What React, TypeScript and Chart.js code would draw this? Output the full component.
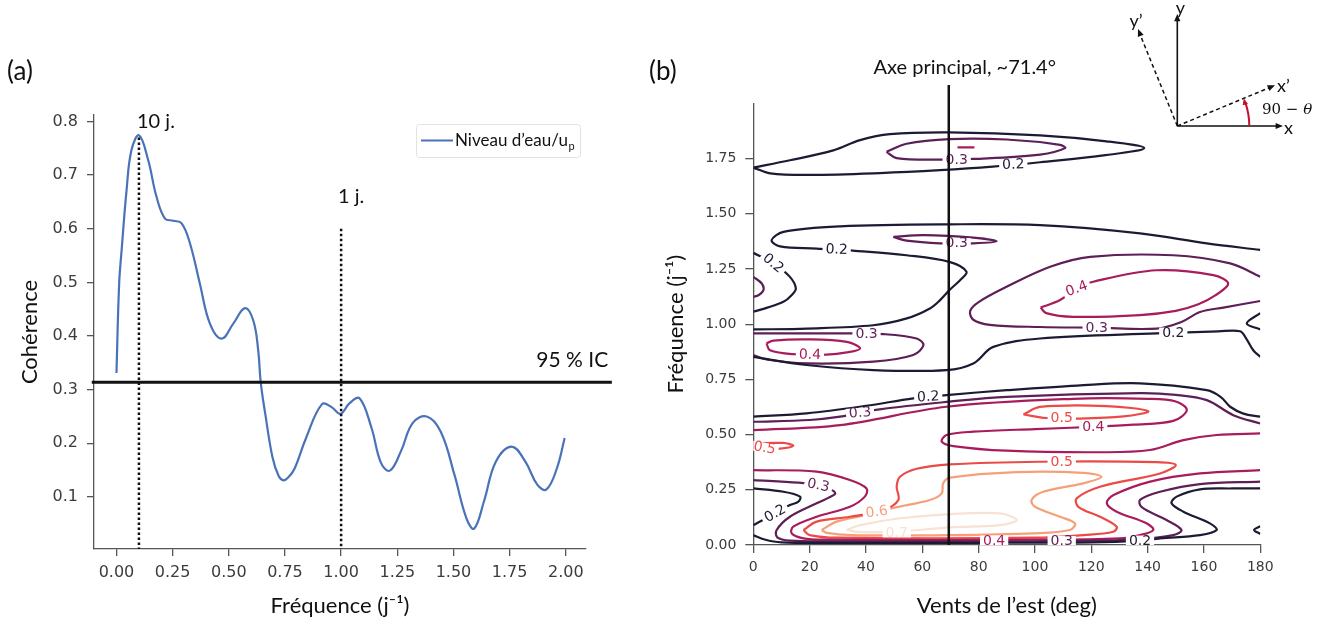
import React, { useEffect, useRef } from "react";
import { Chart, registerables } from "chart.js";
Chart.register(...registerables);

// ---------------- Panel (a) data ----------------
const cohFreq = [0, 0.012, 0.023, 0.045, 0.067, 0.101, 0.141, 0.178, 0.216, 0.253, 0.29, 0.327, 0.371, 0.416, 0.468, 0.52, 0.572, 0.609, 0.631, 0.642, 0.663, 0.695, 0.722, 0.744, 0.766, 0.792, 0.844, 0.915, 0.959, 0.997, 1.038, 1.082, 1.135, 1.178, 1.217, 1.266, 1.319, 1.381, 1.443, 1.504, 1.557, 1.592, 1.636, 1.689, 1.759, 1.82, 1.873, 1.914, 1.961, 1.995];
const cohValues = [0.331, 0.498, 0.56, 0.672, 0.747, 0.774, 0.728, 0.66, 0.619, 0.615, 0.61, 0.573, 0.498, 0.423, 0.395, 0.423, 0.452, 0.429, 0.373, 0.314, 0.253, 0.173, 0.139, 0.131, 0.137, 0.152, 0.21, 0.273, 0.267, 0.255, 0.275, 0.284, 0.229, 0.163, 0.149, 0.185, 0.238, 0.25, 0.222, 0.142, 0.061, 0.041, 0.092, 0.166, 0.194, 0.166, 0.123, 0.114, 0.154, 0.21];
const seriesName = "Niveau d’eau/u";
const seriesSub = "p";
const ci95 = 0.314;
const periodFreqs = [0.1, 1.0];
const periodTops = [0.77, 0.6];
const periodLabels = ["10 j.", "1 j."];
const aXTicks = [0, 0.25, 0.5, 0.75, 1, 1.25, 1.5, 1.75, 2];
const aXLabels = ["0.00", "0.25", "0.50", "0.75", "1.00", "1.25", "1.50", "1.75", "2.00"];
const aYTicks = [0.1, 0.2, 0.3, 0.4, 0.5, 0.6, 0.7, 0.8];
const aYLabels = ["0.1", "0.2", "0.3", "0.4", "0.5", "0.6", "0.7", "0.8"];

// ---------------- Panel (b) data ([deg, freq] pairs) ----------------
const axeDeg = 69.4;
const bXTicks = [0, 20, 40, 60, 80, 100, 120, 140, 160, 180];
const bXLabels = ["0", "20", "40", "60", "80", "100", "120", "140", "160", "180"];
const bYTicks = [0, 0.25, 0.5, 0.75, 1, 1.25, 1.5, 1.75];
const bYLabels = ["0.00", "0.25", "0.50", "0.75", "1.00", "1.25", "1.50", "1.75"];

const c02Top = [[0, 1.709], [13, 1.742], [28.4, 1.787], [37.9, 1.833], [48.5, 1.86], [69.6, 1.868], [101.8, 1.855], [125.4, 1.828], [138.8, 1.797], [125, 1.765], [101.8, 1.733], [85, 1.713], [66.3, 1.697], [45, 1.684], [20, 1.676], [6, 1.683], [0, 1.709]];
const c02Mid = [[180, 1.336], [161, 1.366], [137.3, 1.411], [101.8, 1.448], [69.6, 1.452], [30.8, 1.443], [10.7, 1.418], [6.5, 1.38], [9.5, 1.352], [22.5, 1.342], [36.1, 1.332], [54.4, 1.312], [69.6, 1.282], [75.7, 1.237], [73.4, 1.199], [69.6, 1.154], [66.3, 1.109], [62.7, 1.071], [54.5, 1.026], [42.6, 0.995], [19, 0.98], [0, 0.976]];
const c02Left = [[0, 1.323], [7.1, 1.275], [13, 1.214], [15.1, 1.161], [13.5, 1.13], [10.7, 1.101], [5, 1.075], [0, 1.056]];
const c02Under = [[0, 0.852], [18.9, 0.815], [42.6, 0.792], [68.6, 0.792], [78.1, 0.822], [85.2, 0.897], [101.8, 0.935], [143.2, 0.958], [165, 0.967], [172.8, 0.968], [175, 0.935], [177.5, 0.882], [180, 0.852]];
const c02RightSmall = [[180, 1.05], [175.2, 1.003], [180, 0.976]];
const c02Band = [[0, 0.581], [18.9, 0.596], [40, 0.63], [56.8, 0.664], [68.6, 0.679], [90, 0.701], [115, 0.722], [137.3, 0.732], [161, 0.701], [166, 0.67], [169.3, 0.626], [174, 0.595], [180, 0.581]];
const c02LowLoop = [[0, 0.256], [10.7, 0.241], [16.6, 0.219], [16, 0.196], [13, 0.181], [7.7, 0.143], [2.4, 0.106], [0, 0.09]];
const c02Bottom = [[0, 0.045], [4, 0.025], [10, 0.012], [30, 0.01], [80, 0.01], [120, 0.012], [137.3, 0.02], [144.4, 0.03], [158.6, 0.045], [164.5, 0.068], [162.1, 0.098], [152.7, 0.151], [148.5, 0.189], [150.3, 0.219], [158.6, 0.252], [170, 0.256], [180, 0.256]];
const c02RightTiny = [[180, 0.085], [177.8, 0.068], [180, 0.05]];

const c03Top = [[47.3, 1.78], [54.4, 1.817], [69.6, 1.838], [89.9, 1.836], [108.9, 1.812], [110.7, 1.797], [101.8, 1.768], [78.1, 1.748], [66.3, 1.745], [50.9, 1.752], [47.3, 1.78]];
const c03Mid = [[49.7, 1.395], [60.4, 1.403], [78.1, 1.392], [86.4, 1.375], [78.1, 1.366], [66.3, 1.366], [54.4, 1.378], [49.7, 1.395]];
const c03LeftArc = [[0, 1.214], [3, 1.184], [3.6, 1.154], [1.8, 1.131], [0, 1.124]];
const c03Right = [[180, 1.215], [169.3, 1.275], [149.1, 1.312], [119.6, 1.305], [105.4, 1.26], [89.9, 1.169], [80, 1.1], [77, 1.06], [78.1, 1.02], [84, 0.997], [101.8, 0.987], [121.9, 0.984], [143.2, 0.98], [152, 1.01], [158.6, 1.055], [166.9, 1.075], [180, 1.105]];
const c03Left = [[0, 0.958], [32, 0.958], [46.2, 0.955], [58, 0.935], [60.4, 0.905], [56.8, 0.86], [42.6, 0.83], [19, 0.822], [4.7, 0.84], [0, 0.86]];
const c03Band = [[0, 0.558], [20, 0.566], [30.8, 0.581], [44.9, 0.614], [69.6, 0.649], [90, 0.671], [137.3, 0.688], [150, 0.68], [161, 0.656], [170.4, 0.588], [180, 0.55]];
const c03Bottom = [[0, 0.294], [16, 0.282], [23.1, 0.271], [28.4, 0.245], [29, 0.23], [22.5, 0.189], [13, 0.128], [8.3, 0.068], [8.5, 0.035], [13, 0.02], [30, 0.017], [100, 0.017], [134.9, 0.025], [149.1, 0.045], [152, 0.068], [146.7, 0.113], [137.9, 0.171], [137.3, 0.204], [144.4, 0.241], [158.6, 0.276], [180, 0.287]];

const c04TopDash = [[72.5, 1.8], [78.5, 1.8]];
const c04Right = [[102, 1.075], [108.9, 1.109], [114.8, 1.161], [120.7, 1.192], [143.2, 1.244], [163.3, 1.222], [168.6, 1.184], [164, 1.13], [158, 1.09], [150, 1.06], [137.3, 1.041], [113.6, 1.033], [104, 1.05], [102, 1.075]];
const c04Left = [[4.7, 0.913], [7.1, 0.925], [19, 0.931], [33.2, 0.92], [37.9, 0.89], [33.2, 0.872], [26, 0.862], [14.2, 0.864], [5.9, 0.882], [4.7, 0.913]];
const c04Band = [[0, 0.52], [30.8, 0.543], [68.6, 0.626], [113.6, 0.662], [140, 0.662], [150, 0.65], [153.9, 0.611], [149.1, 0.562], [135, 0.545], [120.7, 0.535], [100, 0.525], [78.1, 0.513], [68.6, 0.498], [66.9, 0.468], [71, 0.448], [89.9, 0.427], [123, 0.42], [140.8, 0.43], [152.7, 0.475], [164.5, 0.498], [180, 0.505]];
const c04Bottom = [[0, 0.339], [22.5, 0.332], [34.3, 0.294], [40.2, 0.256], [39.6, 0.219], [34.3, 0.173], [22.5, 0.128], [14.2, 0.083], [13.6, 0.053], [17.8, 0.03], [25, 0.024], [100, 0.024], [130, 0.03], [137.3, 0.045], [142, 0.068], [139.6, 0.098], [129, 0.151], [125.5, 0.189], [127.9, 0.226], [140.9, 0.287], [158.6, 0.324], [180, 0.339]];

const c05Inner = [[95.9, 0.591], [101.8, 0.625], [125.4, 0.629], [140.2, 0.606], [131.4, 0.582], [114.8, 0.572], [104.1, 0.575], [95.9, 0.591]];
const c05Left = [[0, 0.46], [10.6, 0.462], [14.2, 0.449], [9.5, 0.436], [0, 0.432]];
const c05Bottom = [[17.8, 0.068], [22.5, 0.106], [34.3, 0.128], [46.2, 0.158], [51.5, 0.204], [50.9, 0.264], [52.1, 0.309], [58, 0.345], [69.8, 0.365], [101.8, 0.377], [143.2, 0.375], [150, 0.362], [144.4, 0.324], [123.1, 0.264], [114.8, 0.211], [115.4, 0.173], [123.1, 0.128], [129, 0.083], [127.8, 0.06], [117.1, 0.045], [100, 0.033], [30, 0.033], [20, 0.045], [17.8, 0.068]];
const c06Bottom = [[24.3, 0.068], [29.6, 0.106], [40.2, 0.136], [49.7, 0.168], [62.7, 0.204], [66.9, 0.234], [67.4, 0.279], [69.8, 0.305], [93.5, 0.33], [117.1, 0.327], [123.6, 0.309], [117.1, 0.279], [102.9, 0.241], [98.8, 0.204], [100, 0.173], [108.9, 0.128], [114.2, 0.098], [112.4, 0.068], [99.4, 0.053], [69.8, 0.045], [35, 0.045], [26, 0.055], [24.3, 0.068]];
const c07Bottom = [[33.1, 0.068], [37.9, 0.09], [52.1, 0.121], [70, 0.14], [87.6, 0.143], [93.5, 0.113], [87.6, 0.09], [70, 0.08], [52, 0.062], [38, 0.058], [33.1, 0.068]];

const contourLevels = [0.2, 0.3, 0.4, 0.5, 0.6, 0.7];
const levelColors = ["#1d1a33", "#5e1f57", "#a81c5c", "#ec4a47", "#f5a079", "#f8e2d3"];
const contours: [number, number[][]][] = [
  [0.2, c02Top], [0.2, c02Mid], [0.2, c02Left], [0.2, c02Under], [0.2, c02RightSmall], [0.2, c02Band], [0.2, c02LowLoop], [0.2, c02Bottom], [0.2, c02RightTiny],
  [0.3, c03Top], [0.3, c03Mid], [0.3, c03LeftArc], [0.3, c03Right], [0.3, c03Left], [0.3, c03Band], [0.3, c03Bottom],
  [0.4, c04TopDash], [0.4, c04Right], [0.4, c04Left], [0.4, c04Band], [0.4, c04Bottom],
  [0.5, c05Inner], [0.5, c05Left], [0.5, c05Bottom],
  [0.6, c06Bottom],
  [0.7, c07Bottom],
];
// [level, deg, freq, rotation]
const contourLabels: [number, number, number, number][] = [
  [0.3, 72.2, 1.745, 0], [0.2, 92.3, 1.723, -2], [0.2, 29.6, 1.338, 2], [0.3, 72.2, 1.367, 0],
  [0.2, 7.1, 1.276, 40], [0.4, 114.8, 1.161, -20], [0.3, 121.9, 0.984, 0], [0.2, 149.1, 0.962, 0],
  [0.3, 40.2, 0.958, 0], [0.4, 20.1, 0.862, 2], [0.2, 62.1, 0.671, -3], [0.3, 37.9, 0.599, -5],
  [0.5, 109.5, 0.574, 0], [0.4, 120.7, 0.533, 0], [0.5, 4.0, 0.44, 10], [0.5, 109.5, 0.377, 0],
  [0.3, 23.1, 0.271, 12], [0.2, 7.7, 0.143, -30], [0.6, 43.8, 0.15, -8], [0.7, 50.9, 0.057, 0],
  [0.4, 85.5, 0.02, 0], [0.3, 109.5, 0.018, 0], [0.2, 137.3, 0.02, 0],
];

const colorFor = (lv: number) => levelColors[contourLevels.findIndex((l) => Math.abs(l - lv) < 1e-6)];
const TXT = "Lato, 'Open Sans', sans-serif";
const TICKF = "'DejaVu Sans', sans-serif";

function ChartA() {
  const ref = useRef<HTMLCanvasElement>(null);
  useEffect(() => {
    const annot = {
      id: "annotA",
      afterDraw(chart: any) {
        const { ctx, scales, chartArea } = chart;
        const xs = scales.x, ys = scales.y;
        ctx.save();
        ctx.fillStyle = "#111";
        ctx.textAlign = "left";
        ctx.textBaseline = "middle";
        ctx.font = `26px ${TXT}`;
        ctx.fillText("(a)", 7, 72);
        ctx.font = `20px ${TXT}`;
        ctx.textAlign = "center";
        ctx.fillText(periodLabels[0], xs.getPixelForValue(periodFreqs[0]) + 17, ys.getPixelForValue(0.8));
        ctx.fillText(periodLabels[1], xs.getPixelForValue(periodFreqs[1]) + 10, ys.getPixelForValue(periodTops[1]) - 32);
        ctx.font = `21px ${TXT}`;
        ctx.fillText("95 % IC", xs.getPixelForValue(2.029), ys.getPixelForValue(ci95) - 22);
        // legend
        const bw = 164, bh = 33;
        const bx = chartArea.right - 6 - bw, by = chartArea.top + 9;
        ctx.fillStyle = "rgba(255,255,255,0.9)";
        ctx.strokeStyle = "#e2e2e2";
        ctx.lineWidth = 1;
        ctx.beginPath();
        ctx.roundRect(bx + 0.5, by + 0.5, bw, bh, 3);
        ctx.fill();
        ctx.stroke();
        ctx.strokeStyle = "#4a72b8";
        ctx.lineWidth = 2;
        ctx.beginPath();
        ctx.moveTo(bx + 5, by + bh / 2);
        ctx.lineTo(bx + 37, by + bh / 2);
        ctx.stroke();
        ctx.fillStyle = "#111";
        ctx.textAlign = "left";
        ctx.font = `17px ${TXT}`;
        ctx.fillText(seriesName, bx + 39, by + bh / 2);
        const w = ctx.measureText(seriesName).width;
        ctx.font = `11px ${TXT}`;
        ctx.fillText(seriesSub, bx + 39 + w + 0.5, by + bh / 2 + 6);
        ctx.restore();
      },
    };
    const chart = new Chart(ref.current!, {
      type: "scatter",
      data: {
        datasets: [
          { data: [{ x: -0.11, y: ci95 }, { x: 2.205, y: ci95 }], showLine: true, borderColor: "#111", borderWidth: 3, pointRadius: 0, clip: false } as any,
          { data: [{ x: periodFreqs[0], y: periodTops[0] }, { x: periodFreqs[0], y: 0.003 }], showLine: true, borderColor: "#111", borderWidth: 2.5, borderDash: [2.5, 2.5], pointRadius: 0 },
          { data: [{ x: periodFreqs[1], y: periodTops[1] }, { x: periodFreqs[1], y: 0.003 }], showLine: true, borderColor: "#111", borderWidth: 2.5, borderDash: [2.5, 2.5], pointRadius: 0 },
          { data: cohFreq.map((f, i) => ({ x: f, y: cohValues[i] })), showLine: true, borderColor: "#4a72b8", borderWidth: 2.2, pointRadius: 0, tension: 0.4 },
        ],
      },
      options: {
        animation: false,
        responsive: false,
        events: [],
        layout: { padding: { top: 115, right: 54, left: 0, bottom: 0 } },
        plugins: { legend: { display: false }, tooltip: { enabled: false } },
        scales: {
          x: {
            type: "linear", min: -0.1, max: 2.09,
            afterBuildTicks: (s: any) => { s.ticks = aXTicks.map((v) => ({ value: v })); },
            afterFit: (s: any) => { s.height = 70; },
            ticks: { autoSkip: false, maxRotation: 0, padding: 7, color: "#3c3c3c", font: { family: TICKF, size: 16 }, callback: (_v: any, i: number) => aXLabels[i] },
            grid: { display: true, drawOnChartArea: false, drawTicks: true, tickLength: 7, color: "#555", lineWidth: 1.3 },
            border: { display: true, color: "#555", width: 1.3 },
            title: { display: true, text: "Fréquence (j⁻¹)", color: "#111", font: { family: TXT, size: 22 }, padding: { top: 0, bottom: 0 } },
          },
          y: {
            type: "linear", min: 0.003, max: 0.812,
            afterBuildTicks: (s: any) => { s.ticks = aYTicks.map((v) => ({ value: v })); },
            afterFit: (s: any) => { s.width = 94; },
            ticks: { autoSkip: false, padding: 9, color: "#3c3c3c", font: { family: TICKF, size: 16 }, callback: (_v: any, i: number) => aYLabels[i] },
            grid: { display: true, drawOnChartArea: false, drawTicks: true, tickLength: 7, color: "#555", lineWidth: 1.3 },
            border: { display: true, color: "#555", width: 1.3 },
            title: { display: true, text: "Cohérence", color: "#111", font: { family: TXT, size: 22 }, padding: { top: 17, bottom: 0 } },
          },
        },
      } as any,
      plugins: [annot],
    });
    return () => chart.destroy();
  }, []);
  return <canvas ref={ref} width={640} height={619} style={{ position: "absolute", left: 0, top: 0, width: 640, height: 619 }} />;
}

function arrowHead(ctx: CanvasRenderingContext2D, x1: number, y1: number, x2: number, y2: number, size: number) {
  const a = Math.atan2(y2 - y1, x2 - x1);
  ctx.beginPath();
  ctx.moveTo(x2, y2);
  ctx.lineTo(x2 - size * Math.cos(a - 0.4), y2 - size * Math.sin(a - 0.4));
  ctx.lineTo(x2 - size * Math.cos(a + 0.4), y2 - size * Math.sin(a + 0.4));
  ctx.closePath();
  ctx.fill();
}

function ChartB() {
  const ref = useRef<HTMLCanvasElement>(null);
  useEffect(() => {
    const annot = {
      id: "annotB",
      afterDatasetDraw(chart: any, args: any) {
        if (args.index !== 1) return;
        const { ctx, scales } = chart;
        ctx.save();
        ctx.beginPath();
        ctx.rect(chart.chartArea.left, chart.chartArea.top - 5, chart.chartArea.width, chart.chartArea.height + 5);
        ctx.clip();
        ctx.font = `14px ${TICKF}`;
        ctx.textAlign = "center";
        ctx.textBaseline = "middle";
        for (const [lv, d, f, rot] of contourLabels) {
          const x = scales.x.getPixelForValue(d), y = scales.y.getPixelForValue(f);
          const t = lv.toFixed(1);
          const w = ctx.measureText(t).width;
          ctx.save();
          ctx.translate(x, y);
          ctx.rotate((rot * Math.PI) / 180);
          ctx.fillStyle = "#fff";
          ctx.fillRect(-w / 2 - 3, -5, w + 6, 10);
          ctx.fillStyle = colorFor(lv);
          ctx.fillText(t, 0, 0.5);
          ctx.restore();
        }
        ctx.restore();
      },
      afterDraw(chart: any) {
        const { ctx, scales } = chart;
        ctx.save();
        ctx.fillStyle = "#111";
        ctx.textBaseline = "middle";
        ctx.textAlign = "left";
        ctx.font = `26px ${TXT}`;
        ctx.fillText("(b)", 9, 72);
        ctx.textAlign = "center";
        ctx.font = `20px ${TXT}`;
        ctx.fillText("Axe principal, ~71.4°", scales.x.getPixelForValue(axeDeg) + 16, 68);
        // coordinate inset
        const ox = 537.3, oy = 126;
        ctx.strokeStyle = "#111";
        ctx.fillStyle = "#111";
        ctx.lineWidth = 1.6;
        ctx.setLineDash([]);
        ctx.beginPath(); ctx.moveTo(ox, oy); ctx.lineTo(ox, 17); ctx.stroke();
        arrowHead(ctx, ox, oy, ox, 14, 8);
        ctx.beginPath(); ctx.moveTo(ox, oy); ctx.lineTo(639, oy); ctx.stroke();
        arrowHead(ctx, ox, oy, 643, oy, 8);
        ctx.setLineDash([4, 3]);
        ctx.lineWidth = 1.5;
        ctx.beginPath(); ctx.moveTo(ox, oy); ctx.lineTo(499.5, 33); ctx.stroke();
        ctx.beginPath(); ctx.moveTo(ox, oy); ctx.lineTo(631, 87); ctx.stroke();
        ctx.setLineDash([]);
        arrowHead(ctx, ox, oy, 498, 29, 8);
        arrowHead(ctx, ox, oy, 635, 85.3, 8);
        // red arc
        const r = 72, ang = Math.atan2(40, 96);
        ctx.strokeStyle = "#c8102e";
        ctx.fillStyle = "#c8102e";
        ctx.lineWidth = 2;
        ctx.beginPath();
        ctx.arc(ox, oy, r, 0, -ang + 0.06, true);
        ctx.stroke();
        const ex = ox + r * Math.cos(ang), ey = oy - r * Math.sin(ang);
        arrowHead(ctx, ex + 2, ey + 8, ex, ey, 7);
        ctx.fillStyle = "#111";
        ctx.textAlign = "center";
        ctx.font = `18px ${TXT}`;
        ctx.fillText("y", ox + 3, 8);
        ctx.fillText("y’", 496, 21);
        ctx.textAlign = "left";
        ctx.fillText("x", 644, 128);
        ctx.fillText("x’", 637, 86);
        ctx.font = `15px 'DejaVu Serif', serif`;
        ctx.fillText("90 − ", 622, 110);
        const w = ctx.measureText("90 − ").width;
        ctx.font = `italic 15px 'DejaVu Serif', serif`;
        ctx.fillText("θ", 622 + w, 110);
        ctx.restore();
      },
    };
    const datasets: any[] = [
      { data: [{ x: axeDeg, y: 0 }, { x: axeDeg, y: 2.083 }], showLine: true, borderColor: "#111", borderWidth: 2.5, pointRadius: 0, clip: false },
      ...contours.map(([lv, pts]) => ({
        data: pts.map(([d, f]) => ({ x: d, y: f })),
        showLine: true,
        borderColor: colorFor(lv),
        borderWidth: 2.2,
        pointRadius: 0,
        tension: 0.35,
      })),
    ];
    const chart = new Chart(ref.current!, {
      type: "scatter",
      data: { datasets },
      options: {
        animation: false,
        responsive: false,
        events: [],
        layout: { padding: { top: 103.3, right: 56.7, left: 0, bottom: 0 } },
        plugins: { legend: { display: false }, tooltip: { enabled: false } },
        scales: {
          x: {
            type: "linear", min: 0, max: 180,
            afterBuildTicks: (s: any) => { s.ticks = bXTicks.map((v) => ({ value: v })); },
            afterFit: (s: any) => { s.height = 74; },
            ticks: { autoSkip: false, maxRotation: 0, padding: 6, color: "#3c3c3c", font: { family: TICKF, size: 14 }, callback: (_v: any, i: number) => bXLabels[i] },
            grid: { display: true, drawOnChartArea: false, drawTicks: true, tickLength: 8, color: "#555", lineWidth: 1.3 },
            border: { display: true, color: "#555", width: 1.3 },
            title: { display: true, text: "Vents de l’est (deg)", color: "#111", font: { family: TXT, size: 22 }, padding: { top: 0, bottom: 0 } },
          },
          y: {
            type: "linear", min: 0, max: 2.0,
            afterBuildTicks: (s: any) => { s.ticks = bYTicks.map((v) => ({ value: v })); },
            afterFit: (s: any) => { s.width = 113.3; },
            ticks: { autoSkip: false, padding: 9, color: "#3c3c3c", font: { family: TICKF, size: 14 }, callback: (_v: any, i: number) => bYLabels[i] },
            grid: { display: true, drawOnChartArea: false, drawTicks: true, tickLength: 8, color: "#555", lineWidth: 1.3 },
            border: { display: true, color: "#555", width: 1.3 },
            title: { display: true, text: "Fréquence (j⁻¹)", color: "#111", font: { family: TXT, size: 22 }, padding: { top: 23, bottom: 0 } },
          },
        },
      } as any,
      plugins: [annot],
    });
    return () => chart.destroy();
  }, []);
  return <canvas ref={ref} width={677} height={619} style={{ position: "absolute", left: 640, top: 0, width: 677, height: 619 }} />;
}

export default function App() {
  return (
    <div style={{ position: "absolute", left: 0, top: 0, width: 1317, height: 619, background: "#fff", overflow: "hidden" }}>
      <ChartA />
      <ChartB />
    </div>
  );
}
